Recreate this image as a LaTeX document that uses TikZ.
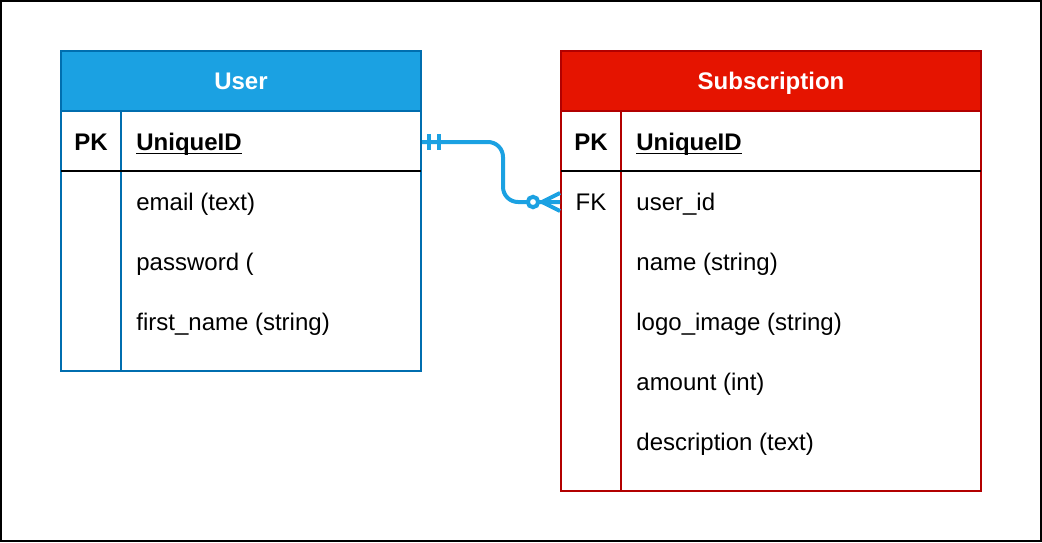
\documentclass[tikz,border=0pt]{standalone}
\usepackage{fontspec}
\setmainfont{Liberation Sans}
\usetikzlibrary{calc}

\definecolor{userfill}{HTML}{1BA1E2}
\definecolor{userline}{HTML}{006EAF}
\definecolor{subfill}{HTML}{E51400}
\definecolor{subline}{HTML}{B20000}
\definecolor{linkcol}{HTML}{1BA1E2}

\tikzset{
  head/.style={minimum height=30pt, inner sep=0pt, text=white, line width=1pt,
    text height=8.6pt, text depth=0pt, font=\fontsize{12}{14}\selectfont\bfseries},
  tablebox/.style={line width=1pt, inner sep=0pt},
  keytext/.style={inner sep=0pt, text height=8.6pt, text depth=0pt, font=\fontsize{12}{14}\selectfont\bfseries},
  field/.style={anchor=west, inner sep=0pt, text height=8.6pt, text depth=0pt, font=\fontsize{12}{14}\selectfont},
  keyfield/.style={field, font=\fontsize{12}{14}\selectfont\bfseries},
  uline/.style={line width=0.7pt},
  link/.style={linkcol, line width=2pt}
}

\begin{document}
\begin{tikzpicture}[x=0.5pt, y=-0.5pt] % 1 像素 = 0.5pt，y 向下
  \useasboundingbox (0,0) rectangle (1042,542);
  \draw[black, line width=1pt] (1,1) rectangle (1041,541);

  % =============== User 表 ===============
  \node[head, fill=userfill, draw=userline, minimum width=180pt] (user) at (241,81) {User};
  \node[tablebox, draw=userline, minimum width=180pt, minimum height=130pt] (usertab) at (241,241) {};
  \draw[userline, line width=1pt] (121,111) -- (121,371);
  \draw[black, line width=1pt] (61,171) -- (421,171);
  \node[keytext] (userpk) at (91,142) {PK};
  \node[keyfield] (userid) at (136,142) {UniqueID};
  \draw[uline] ([yshift=-1.3pt]userid.base west) -- ([yshift=-1.3pt]userid.base east);
  \foreach \f [count=\i] in {{email (text)}, {password (}, {first\_name (string)}}
    \node[field] (userrow\i) at (136,142+60*\i) {\f};

  % =============== Subscription 表 ===============
  \node[head, fill=subfill, draw=subline, minimum width=210pt] (sub) at (771,81) {Subscription};
  \node[tablebox, draw=subline, minimum width=210pt, minimum height=190pt] (subtab) at (771,301) {};
  \draw[subline, line width=1pt] (621,111) -- (621,491);
  \draw[black, line width=1pt] (561,171) -- (981,171);
  \node[keytext] (subpk) at (591,142) {PK};
  \node[keyfield] (subid) at (636,142) {UniqueID};
  \draw[uline] ([yshift=-1.3pt]subid.base west) -- ([yshift=-1.3pt]subid.base east);
  \node[keytext, font=\fontsize{12}{14}\selectfont] (subfk) at (591,202) {FK};
  \foreach \f [count=\i] in {{user\_id}, {name (string)}, {logo\_image (string)}, {amount (int)}, {description (text)}}
    \node[field] (subrow\i) at (636,142+60*\i) {\f};

  % =============== 关系连线（一对零或多） ===============
  \coordinate (from) at (usertab.east |- userid);
  \coordinate (to) at (subtab.west |- subfk);
  \draw[link, rounded corners=7.5pt] (from) -- ++(81,0) |- (to);
  % 一端：双竖线
  \draw[link] ($(from)+(7,-8)$) -- ++(0,16);
  \draw[link] ($(from)+(17,-8)$) -- ++(0,16);
  % 多端：鸡爪 + 圆圈
  \draw[link] ($(to)+(-18,0)$) -- ($(to)+(0,-9)$);
  \draw[link] ($(to)+(-18,0)$) -- ($(to)+(0,9)$);
  \draw[link, fill=white] ($(to)+(-27,0)$) circle[radius=2.6pt];
\end{tikzpicture}
\end{document}
